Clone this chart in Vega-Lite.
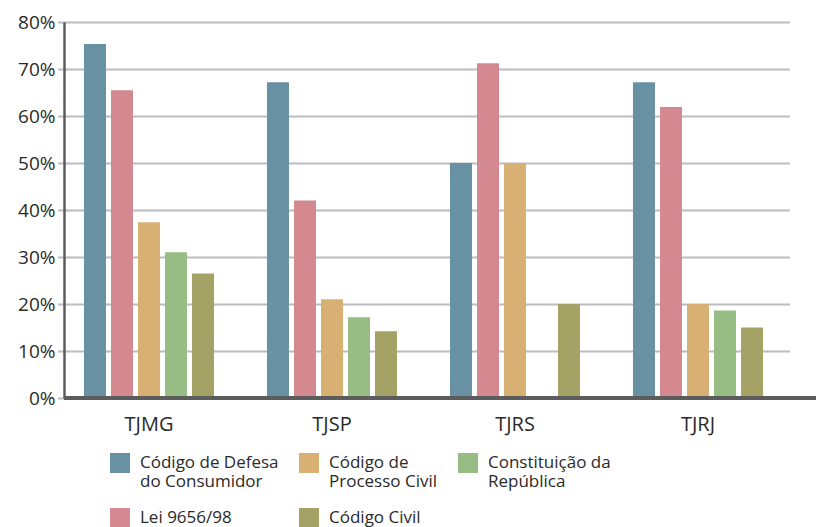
{
  "$schema": "https://vega.github.io/schema/vega-lite/v6.json",
  "width": 752,
  "height": 376,
  "autosize": {"type": "none"},
  "padding": {"left": 64, "top": 22, "right": 0, "bottom": 129},
  "background": "white",
  "config": {
    "view": {"stroke": null},
    "font": "Open Sans",
    "axisY": {
      "title": null,
      "format": ".0%",
      "values": [0, 0.1, 0.2, 0.3, 0.4, 0.5, 0.6, 0.7, 0.8],
      "ticks": false,
      "labelFontSize": 19,
      "labelColor": "#2a2a2a",
      "labelPadding": 9,
      "domainColor": "#5c5c5c",
      "domainWidth": 2.5,
      "gridColor": "#bcbcc3",
      "gridWidth": 2,
      "gridOpacity": 1,
      "labelOverlap": false
    }
  },
  "data": {
    "values": [
      {"tribunal": "TJMG", "serie": "Código de Defesa do Consumidor", "valor": 0.753},
      {"tribunal": "TJMG", "serie": "Lei 9656/98", "valor": 0.655},
      {"tribunal": "TJMG", "serie": "Código de Processo Civil", "valor": 0.374},
      {"tribunal": "TJMG", "serie": "Constituição da República", "valor": 0.31},
      {"tribunal": "TJMG", "serie": "Código Civil", "valor": 0.265},
      {"tribunal": "TJSP", "serie": "Código de Defesa do Consumidor", "valor": 0.672},
      {"tribunal": "TJSP", "serie": "Lei 9656/98", "valor": 0.42},
      {"tribunal": "TJSP", "serie": "Código de Processo Civil", "valor": 0.21},
      {"tribunal": "TJSP", "serie": "Constituição da República", "valor": 0.172},
      {"tribunal": "TJSP", "serie": "Código Civil", "valor": 0.142},
      {"tribunal": "TJRS", "serie": "Código de Defesa do Consumidor", "valor": 0.5},
      {"tribunal": "TJRS", "serie": "Lei 9656/98", "valor": 0.712},
      {"tribunal": "TJRS", "serie": "Código de Processo Civil", "valor": 0.5},
      {"tribunal": "TJRS", "serie": "Constituição da República", "valor": 0},
      {"tribunal": "TJRS", "serie": "Código Civil", "valor": 0.2},
      {"tribunal": "TJRJ", "serie": "Código de Defesa do Consumidor", "valor": 0.672},
      {"tribunal": "TJRJ", "serie": "Lei 9656/98", "valor": 0.619},
      {"tribunal": "TJRJ", "serie": "Código de Processo Civil", "valor": 0.2},
      {"tribunal": "TJRJ", "serie": "Constituição da República", "valor": 0.186},
      {"tribunal": "TJRJ", "serie": "Código Civil", "valor": 0.15}
    ]
  },
  "layer": [
    {
      "mark": {"type": "bar"},
      "encoding": {
        "x": {
          "field": "tribunal",
          "type": "nominal",
          "sort": ["TJMG", "TJSP", "TJRS", "TJRJ"],
          "scale": {"range": [-6.5, 725.5], "paddingInner": 0, "paddingOuter": 0},
          "axis": {
            "title": null,
            "domain": false,
            "ticks": false,
            "labelAngle": 0,
            "labelFontSize": 20,
            "labelColor": "#2a2a2a",
            "labelPadding": 16
          }
        },
        "xOffset": {
          "field": "serie",
          "type": "nominal",
          "sort": ["Código de Defesa do Consumidor", "Lei 9656/98", "Código de Processo Civil", "Constituição da República", "Código Civil"],
          "scale": {"paddingInner": 0.185, "paddingOuter": 0.98}
        },
        "y": {
          "field": "valor",
          "type": "quantitative",
          "scale": {"domain": [0, 0.8], "nice": false}
        },
        "color": {
          "field": "serie",
          "type": "nominal",
          "scale": {
            "domain": ["Código de Defesa do Consumidor", "Lei 9656/98", "Código de Processo Civil", "Código Civil", "Constituição da República"],
            "range": ["#6991a4", "#d3898f", "#d8b074", "#a4a365", "#97bd85"]
          },
          "legend": {
            "title": null,
            "orient": "none",
            "direction": "vertical",
            "legendX": 46,
            "legendY": 431,
            "columns": 3,
            "padding": 0,
            "symbolType": "square",
            "symbolSize": 400,
            "symbolStrokeWidth": 0,
            "symbolOpacity": 1,
            "labelFontSize": 17,
            "labelColor": "#2a2a2a",
            "labelLimit": 300,
            "labelOffset": 10,
            "columnPadding": 20,
            "rowPadding": 18,
            "labelExpr": "datum.label == 'Código de Defesa do Consumidor' ? ['Código de Defesa', 'do Consumidor'] : datum.label == 'Código de Processo Civil' ? ['Código de', 'Processo Civil'] : datum.label == 'Constituição da República' ? ['Constituição da', 'República'] : datum.label"
          }
        }
      }
    },
    {
      "mark": {"type": "rule", "color": "#5c5c5c", "strokeWidth": 2.5},
      "encoding": {"y": {"datum": 0}}
    }
  ]
}
